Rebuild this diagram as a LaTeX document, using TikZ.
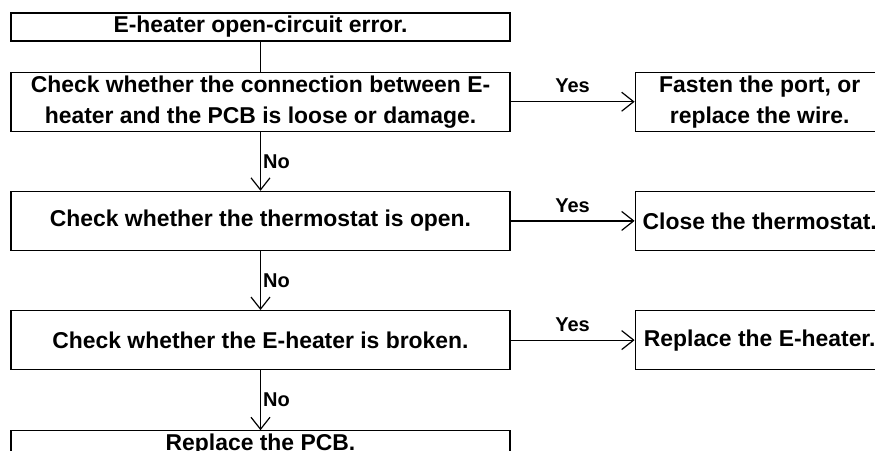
\documentclass[tikz,border=0pt]{standalone}
\usepackage{fontspec}
\setmainfont{Liberation Sans}
\usetikzlibrary{arrows.meta, positioning}

\begin{document}
\begin{tikzpicture}[
  node distance=59pt,
  box/.style={draw, line width=1.2pt, align=center, minimum width=499pt, minimum height=59pt, inner sep=0pt, font=\bfseries\fontsize{22.9}{31}\selectfont},
  slimbox/.style={box, minimum height=28pt},
  fixbox/.style={box, minimum width=249pt},
  arrow/.style={-{Straight Barb[length=12pt, width=19pt]}, line width=1.2pt},
  lbl/.style={font=\bfseries\fontsize{20}{24}\selectfont}
]
\useasboundingbox (0,0) rectangle (875pt,-450pt);

\node[slimbox] (err) at (260.5pt,-27pt) {E-heater open-circuit error.};
\node[box, below=30pt of err] (conn) {Check whether the connection between E-\\heater and the PCB is loose or damage.};
\node[box, below=of conn] (thermo) {Check whether the thermostat is open.};
\node[box, below=of thermo] (heater) {Check whether the E-heater is broken.};
\node[slimbox, below=60pt of heater] (pcb) {Replace the PCB.};

\node[fixbox, right=124pt of conn] (fasten) {Fasten the port, or\\replace the wire.};
\node[fixbox, right=124pt of thermo] (close) {Close the thermostat.};
\node[fixbox, right=124pt of heater] (swap) {Replace the E-heater.};

\draw[line width=1.2pt] (err) -- (conn);
\draw[arrow] (conn) -- node[lbl, right, inner sep=2pt] {No} (thermo);
\draw[arrow] (thermo) -- node[lbl, right, inner sep=2pt] {No} (heater);
\draw[arrow] (heater) -- node[lbl, right, inner sep=2pt] {No} (pcb);

\draw[arrow] (conn) -- node[lbl, above, inner sep=8pt] {Yes} (fasten);
\draw[arrow] (thermo) -- node[lbl, above, inner sep=8pt] {Yes} (close);
\draw[arrow] (heater) -- node[lbl, above, inner sep=8pt] {Yes} (swap);

\end{tikzpicture}
\end{document}
